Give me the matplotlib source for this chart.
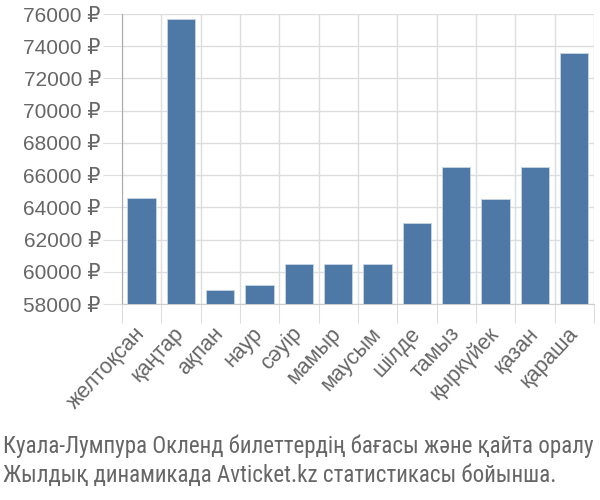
import numpy as np
import matplotlib
matplotlib.use("Agg")
import matplotlib.pyplot as plt
from matplotlib.ticker import FuncFormatter

plt.rcParams['font.family'] = ['Liberation Sans', 'DejaVu Sans']

# months and average prices
months = ['желтоқсан', 'қаңтар', 'ақпан', 'наур', 'сәуір', 'мамыр', 'маусым',
          'шілде', 'тамыз', 'қыркүйек', 'қазан', 'қараша']
prices = [64600, 75700, 58900, 59200, 60500, 60500, 60500,
          63000, 66500, 64500, 66500, 73600]
yticks = [58000, 60000, 62000, 64000, 66000, 68000, 70000, 72000, 74000, 76000]
caption = ['Куала-Лумпура Окленд билеттердің бағасы және қайта оралу',
           'Жылдық динамикада Avticket.kz статистикасы бойынша.']

grey = '#666666'
fig = plt.figure(figsize=(6, 5), dpi=100)
ax = fig.add_axes([0.203, 0.392, 0.787, 0.58])

x = np.arange(len(months))
ax.bar(x, np.array(prices) - 58000, bottom=58000, width=0.72,
       color='#4e79a7', edgecolor='#c8d6e6', linewidth=0.6, zorder=3)

ax.set_xlim(-0.5, len(months) - 0.5)
ax.set_ylim(58000, 76000)
ax.set_yticks(yticks)
ax.yaxis.set_major_formatter(FuncFormatter(lambda v, p: '%d ₽' % v))
# gridlines / ticks between the bars, labels under the bar centres
ax.set_xticks(np.append(x - 0.5, len(months) - 0.5))
ax.set_xticklabels([])
ax.set_xticks(x, minor=True)
ax.set_xticklabels(months, minor=True, rotation=47, ha='right', va='center',
                   rotation_mode='anchor', fontsize=15.5, color=grey)
ax.tick_params(axis='x', which='minor', length=0, pad=19)
ax.tick_params(axis='x', which='major', length=14, color='#dddddd')
ax.tick_params(axis='y', length=14, color='#dddddd', labelsize=15,
               labelcolor=grey, pad=1)

ax.grid(True, color='#dddddd', linewidth=1, zorder=0)
for s in ['top', 'right']:
    ax.spines[s].set_visible(False)
ax.spines['left'].set_color('#aaaaaa')
ax.spines['bottom'].set_color('#cccccc')

fig.text(0.005, 0.094, caption[0], fontsize=16.6, color=grey, ha='left',
         va='baseline', family=['Roboto Condensed', 'DejaVu Sans'])
fig.text(0.005, 0.036, caption[1], fontsize=16.6, color=grey, ha='left',
         va='baseline', family=['Roboto Condensed', 'DejaVu Sans'])

plt.savefig('out.png')
